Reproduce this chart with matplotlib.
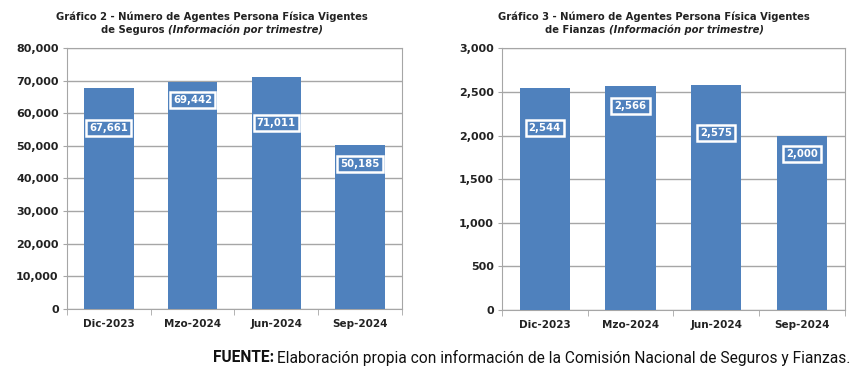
import matplotlib
matplotlib.use("Agg")
from matplotlib import pyplot as plt
from matplotlib.ticker import FuncFormatter, MultipleLocator

periodos = ["Dic-2023", "Mzo-2024", "Jun-2024", "Sep-2024"]
seguros = [67661, 69442, 71011, 50185]
fianzas = [2544, 2566, 2575, 2000]
# altura (en unidades de datos) donde va cada etiqueta
seguros_lbl_y = [55500, 64000, 57000, 44400]
fianzas_lbl_y = [2084, 2336, 2027, 1786]

azul = '#4F81BD'
gris = '#A6A6A6'

fig = plt.figure(figsize=(8.61, 3.74), dpi=100)
ax1 = fig.add_axes([0.0778, 0.174, 0.389, 0.698])
ax2 = fig.add_axes([0.583, 0.171, 0.398, 0.700])


def draw_panel(ax, vals, lbl_y, ymax, step, titulo1, xc):
    xs = range(len(periodos))
    ax.bar(xs, vals, width=0.59, color=azul, zorder=3)
    ax.set_xlim(-0.5, len(periodos) - 0.5)
    ax.set_ylim(0, ymax)
    ax.yaxis.set_major_locator(MultipleLocator(step))
    ax.yaxis.set_major_formatter(FuncFormatter(lambda v, p: f"{int(v):,}"))
    ax.grid(axis='y', color=gris, lw=1, zorder=0)
    for s in ax.spines.values():
        s.set_color(gris)
    ax.tick_params(axis='y', length=3, color=gris, labelsize=8, pad=3)
    ax.tick_params(axis='x', length=0, labelsize=7.5, pad=7)
    for lab in ax.get_yticklabels() + ax.get_xticklabels():
        lab.set_fontweight('bold')
        lab.set_color('#222222')
    ax.set_xticks(list(xs))
    ax.set_xticklabels(periodos)
    # marcas entre categorias
    ax.set_xticks([i + 0.5 for i in range(-1, len(periodos))], minor=True)
    ax.tick_params(axis='x', which='minor', length=4, color=gris)
    for i, (v, ly) in enumerate(zip(vals, lbl_y)):
        ax.text(i, ly, f"{v:,}", ha='center', va='center', color='white',
                fontsize=7.3, fontweight='bold', zorder=5,
                bbox=dict(boxstyle='square,pad=0.3', fc=azul, ec='white', lw=1.8))
    fig.text(xc, 0.956, titulo1, ha='center', va='center', fontsize=7.2,
             fontweight='bold', color='#222222')


xc1, xc2 = 0.246, 0.760
draw_panel(ax1, seguros, seguros_lbl_y, 80000, 10000,
           "Gráfico 2 - Número de Agentes Persona Física Vigentes", xc1)
draw_panel(ax2, fianzas, fianzas_lbl_y, 3000, 500,
           "Gráfico 3 - Número de Agentes Persona Física Vigentes", xc2)

# segunda linea de titulos: parte en negrita + parte en cursiva
fig.canvas.draw()
r = fig.canvas.get_renderer()
for xc, pre in [(xc1, "de Seguros "), (xc2, "de Fianzas ")]:
    t1 = fig.text(0, 0.921, pre, fontsize=7.2, fontweight='bold', va='center', color='#222222')
    t2 = fig.text(0, 0.921, "(Información por trimestre)", fontsize=7.2,
                  fontweight='bold', style='italic', va='center', color='#222222')
    w1 = t1.get_window_extent(r).width / fig.bbox.width
    w2 = t2.get_window_extent(r).width / fig.bbox.width
    start = xc - (w1 + w2) / 2
    t1.set_x(start)
    t2.set_x(start + w1)

# fuente
t_norm = fig.text(0.988, 0.043, "Elaboración propia con información de la Comisión Nacional de Seguros y Fianzas.",
                  ha='right', va='center', fontsize=11.2, family='Roboto', color='#111111')
wn = t_norm.get_window_extent(r).width / fig.bbox.width
fig.text(0.988 - wn - 0.004, 0.043, "FUENTE:", ha='right', va='center', fontsize=11.2,
         family='Roboto', fontweight='bold', color='#111111')

fig.savefig("out.png", dpi=100)
